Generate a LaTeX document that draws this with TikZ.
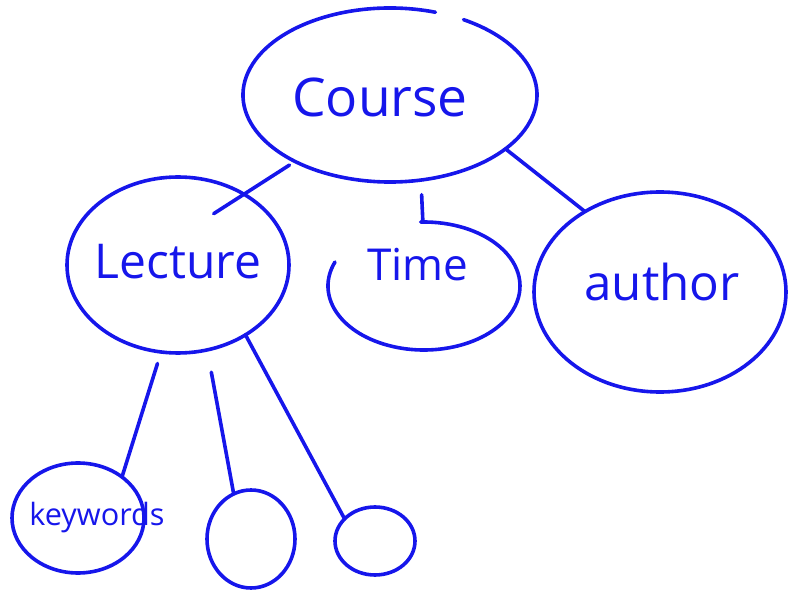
\documentclass[tikz,border=0pt]{standalone}
\usepackage{fontspec}
\setmainfont{Open Sans}
\usetikzlibrary{shapes.geometric}
\definecolor{ink}{RGB}{22,22,235}
\begin{document}
\begin{tikzpicture}[x=0.75pt,y=0.75pt,
    pen/.style={draw=ink, line width=2.7pt, line cap=round, line join=round},
    bubble/.style n args={2}{ellipse, inner sep=0pt, outer sep=0pt,
      minimum width=#1, minimum height=#2},
    word/.style={text=ink, inner sep=0pt}]
  \useasboundingbox (0,0) rectangle (789,593);

  % bubbles (outline drawn below)
  \node[bubble={220.5pt}{130.5pt}] (course)   at (390,498) {};
  \node[bubble={166.5pt}{132pt}]   (lecture)  at (178,328) {};
  \node[bubble={144pt}{96pt}]      (time)     at (424,307) {};
  \node[bubble={189pt}{150pt}]     (author)   at (660,301) {};
  \node[bubble={99pt}{82.5pt}]     (keywords) at (78,75)   {};
  \node[bubble={66pt}{73.5pt}]     (leafa)    at (251,54)  {};
  \node[bubble={60pt}{51pt}]       (leafb)    at (375,52)  {};

  % outlines, with the open gaps of the pen strokes
  \draw[pen] ([shift={(72:147 and 87)}]course.center)
    arc[start angle=72, end angle=420, x radius=147, y radius=87];
  \draw[pen] (lecture.center) ellipse[x radius=111, y radius=88];
  \draw[pen] ([shift={(158:96 and 64)}]time.center)
    arc[start angle=158, end angle=452, x radius=96, y radius=64];
  \draw[pen] (author.center) ellipse[x radius=126, y radius=100];
  \draw[pen] (keywords.center) ellipse[x radius=66, y radius=55];
  \draw[pen] (leafa.center) ellipse[x radius=44, y radius=49];
  \draw[pen] (leafb.center) ellipse[x radius=40, y radius=34];

  % labels
  \node[word, font=\fontsize{40}{44}\selectfont] (tcourse)  at (380,496) {Course};
  \node[word, font=\fontsize{36}{40}\selectfont] (tlecture) at (178,331) {Lecture};
  \node[word, font=\fontsize{33}{37}\selectfont] (ttime)    at (418,328) {Time};
  \node[word, font=\fontsize{37}{41}\selectfont] (tauthor)  at (662,311) {author};
  \node[word, font=\fontsize{23}{27}\selectfont] (tkeys)    at (97,75)   {keywords};

  % connectors
  \draw[pen, shorten <=5pt, shorten >=-27pt] (course.215) -- (lecture.47);
  \draw[pen, shorten <=11pt] (course.290) -- (time.91);
  \draw[pen] (course.335) -- (author.133);
  \draw[pen, shorten <=9pt] (lecture.259) -- (keywords.43);
  \draw[pen, shorten <=17pt] (lecture.289) -- (leafa.111);
  \draw[pen] (lecture.314) -- (leafb.144);
\end{tikzpicture}
\end{document}
